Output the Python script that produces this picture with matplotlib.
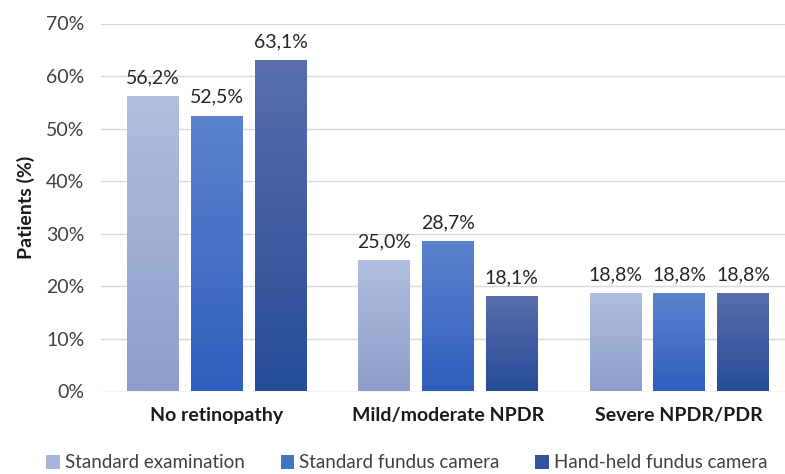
import numpy as np
import matplotlib
matplotlib.use("Agg")
import matplotlib.pyplot as plt
from matplotlib.colors import LinearSegmentedColormap
from matplotlib.patches import Patch

plt.rcParams['font.family'] = ['Lato', 'DejaVu Sans']

categorias = ["No retinopathy", "Mild/moderate NPDR", "Severe NPDR/PDR"]
series = ["Standard examination", "Standard fundus camera", "Hand-held fundus camera"]
valores = [
    [56.2, 25.0, 18.8],
    [52.5, 28.7, 18.8],
    [63.1, 18.1, 18.8],
]
ticks_y = [0, 10, 20, 30, 40, 50, 60, 70]

# colores arriba / abajo del degradado de cada serie
color_arriba = ["#b1bee1", "#5c82cd", "#5a6eac"]
color_abajo = ["#8e9ec9", "#2f5fbe", "#264c98"]
color_leyenda = ["#a8b6dc", "#4472c4", "#34539f"]

fig = plt.figure(figsize=(7.85, 4.74), dpi=100)
W, H = 785, 474
ax = fig.add_axes([101 / W, 82.5 / H, (785 - 101) / W, (391.5 - 23.5) / H])

x = np.arange(len(categorias))
ancho = 0.224
paso = 0.276
grad = np.linspace(1, 0, 256).reshape(-1, 1)

for i, nombre in enumerate(series):
    barras = ax.bar(x + (i - 1) * paso, valores[i], width=ancho,
                    facecolor="none", edgecolor="none", zorder=3)
    cmap = LinearSegmentedColormap.from_list("g%d" % i, [color_abajo[i], color_arriba[i]])
    for b, v in zip(barras, valores[i]):
        x0, y0 = b.get_x(), b.get_y()
        im = ax.imshow(grad, cmap=cmap, aspect="auto", zorder=3,
                       extent=[x0, x0 + b.get_width(), y0, y0 + b.get_height()])
        im.set_clip_path(b)
        ax.annotate(f"{v:.1f}%".replace(".", ","),
                    (x0 + b.get_width() / 2, v), xytext=(0, 7),
                    textcoords="offset points", ha="center", va="bottom",
                    fontsize=14, color="#262626")

ax.set_xlim(-0.5, 2.5 - 10 / 231.5)
ax.set_ylim(0, 70)
ax.set_yticks(ticks_y)
ax.set_yticklabels([f"{t}%" for t in ticks_y], fontsize=14, color="#404040")
ax.set_xticks(x)
ax.set_xticklabels(categorias, fontsize=14, fontweight="bold", color="#1a1a1a")
ax.tick_params(axis="both", length=0)
ax.tick_params(axis="x", pad=11)
ax.tick_params(axis="y", pad=12)
for s in ax.spines.values():
    s.set_visible(False)
ax.grid(axis="y", color="#d9d9d9", linewidth=1, zorder=0)
ax.set_axisbelow(True)
ax.set_ylabel("Patients (%)", fontsize=14, fontweight="bold", color="#1a1a1a", labelpad=8)

handles = [Patch(facecolor=c, edgecolor="none") for c in color_leyenda]
fig.legend(handles, series, loc="center", bbox_to_anchor=(407 / W, 1 - 463 / H),
           ncol=3, frameon=False, fontsize=13.5, handlelength=0.7, handleheight=0.7,
           handletextpad=0.3, columnspacing=1.9, labelcolor="#404040")

fig.savefig("out.png", dpi=100)
